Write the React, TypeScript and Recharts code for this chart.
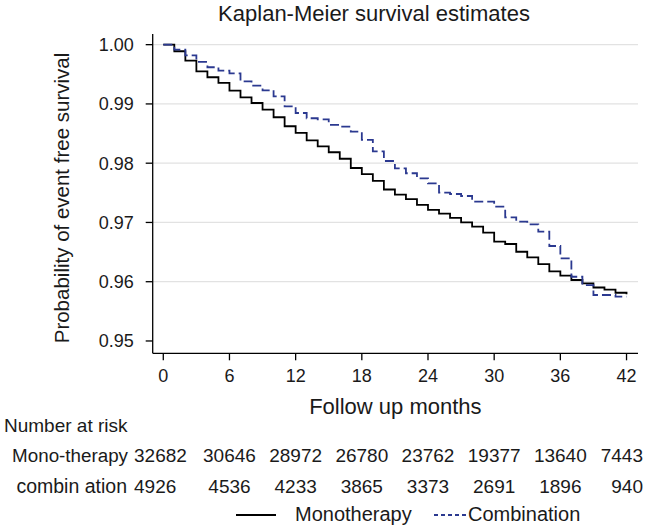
import React from 'react';
import { LineChart, Line, XAxis, YAxis, CartesianGrid } from 'recharts';

// ─── Data ─────────────────────────────────────────────────────────────────────

const months = [
  0, 1, 2, 3, 4, 5, 6, 7, 8, 9, 10, 11, 12, 13, 14, 15, 16, 17, 18, 19, 20, 21,
  22, 23, 24, 25, 26, 27, 28, 29, 30, 31, 32, 33, 34, 35, 36, 37, 38, 39, 40, 41, 42,
];

const monoSurvival = [
  1.0, 0.99889, 0.9973, 0.99551, 0.9945, 0.99354, 0.99224, 0.99112, 0.99016, 0.98903,
  0.98775, 0.98623, 0.9851, 0.98385, 0.98284, 0.98185, 0.98075, 0.97919, 0.97815, 0.977,
  0.97556, 0.97471, 0.97394, 0.97295, 0.97211, 0.9715, 0.97078, 0.97, 0.96928, 0.96827,
  0.96675, 0.96636, 0.96506, 0.96412, 0.96297, 0.96175, 0.96104, 0.96029, 0.95973, 0.95902,
  0.95866, 0.95814, 0.95787,
];

const comboSurvival = [
  1.0, 0.99916, 0.99821, 0.99708, 0.99619, 0.99561, 0.99517, 0.99382, 0.99308, 0.9923,
  0.99129, 0.9896, 0.98847, 0.98758, 0.98741, 0.98645, 0.98616, 0.98532, 0.98392, 0.982,
  0.98037, 0.97914, 0.9783, 0.97745, 0.9766, 0.97502, 0.9748, 0.97446, 0.9735, 0.9735,
  0.97266, 0.97087, 0.97013, 0.96969, 0.96844, 0.96603, 0.96395, 0.96084, 0.95944, 0.95776,
  0.95776, 0.95747, 0.95747,
];

const xTicks = [0, 6, 12, 18, 24, 30, 36, 42];
const yTicks = [0.95, 0.96, 0.97, 0.98, 0.99, 1.0];
const gridValues = [0.96, 0.97, 0.98, 0.99, 1.0];

const monoAtRisk = [32682, 30646, 28972, 26780, 23762, 19377, 13640, 7443];
const comboAtRisk = [4926, 4536, 4233, 3865, 3373, 2691, 1896, 940];

// ─── Layout ───────────────────────────────────────────────────────────────────

const W = 645;
const H = 528;
const PLOT_LEFT = 152.7;
const PLOT_RIGHT = 638;
const PLOT_TOP = 34;
const PLOT_BOTTOM = 353.3;
const Y_AXIS_W = 60;
const X_AXIS_H = 30;
const X_DOMAIN: [number, number] = [-0.96, 43.04];
const Y_DOMAIN: [number, number] = [0.94792, 1.0018];

const FONT = '"Liberation Sans", Arial, Helvetica, sans-serif';
const INK = '#1a1a1a';
const MONO = '#000000';
const COMBO = '#2b3990';

// used only to place the risk-table numbers under the month ticks
const xPos = (m: number) =>
  PLOT_LEFT + ((m - X_DOMAIN[0]) / (X_DOMAIN[1] - X_DOMAIN[0])) * (PLOT_RIGHT - PLOT_LEFT);

// first column hugs the row label, last column is flush with the right edge
function riskCell(n: number, i: number, count: number, y: number, key: string) {
  const last = i === count - 1;
  const first = i === 0;
  const x = first ? 134 : last ? 643 : xPos(xTicks[i]);
  const anchor = first ? 'start' : last ? 'end' : 'middle';
  return <text key={key} x={x} y={y} fontSize={19} textAnchor={anchor}>{n}</text>;
}

const data = months.map((m, i) => ({ m, mono: monoSurvival[i], combo: comboSurvival[i] }));

export default function App() {
  return (
    <div style={{ position: 'absolute', left: 0, top: 0, width: W, height: H, background: '#fff', fontFamily: FONT }}>
      <LineChart
        width={W}
        height={H}
        data={data}
        margin={{ top: PLOT_TOP, right: W - PLOT_RIGHT, bottom: H - PLOT_BOTTOM - X_AXIS_H, left: PLOT_LEFT - Y_AXIS_W }}
      >
        <CartesianGrid horizontal vertical={false} horizontalValues={gridValues} stroke="#e2e2e2" strokeWidth={1.2} />
        <XAxis
          dataKey="m"
          type="number"
          domain={X_DOMAIN}
          allowDataOverflow
          ticks={xTicks}
          height={X_AXIS_H}
          tickSize={7}
          tickMargin={9}
          stroke="#000"
          strokeWidth={1.3}
          tick={{ fill: INK, fontSize: 18, fontFamily: FONT }}
        />
        <YAxis
          type="number"
          domain={Y_DOMAIN}
          allowDataOverflow
          ticks={yTicks}
          width={Y_AXIS_W}
          tickSize={7}
          tickMargin={12}
          stroke="#000"
          strokeWidth={1.3}
          tickFormatter={(v: number) => v.toFixed(2)}
          tick={{ fill: INK, fontSize: 18, fontFamily: FONT }}
        />
        <Line type="stepAfter" dataKey="mono" name="Monotherapy" stroke={MONO} strokeWidth={1.8}
              dot={false} activeDot={false} isAnimationActive={false} />
        <Line type="stepAfter" dataKey="combo" name="Combination" stroke={COMBO} strokeWidth={1.8}
              strokeDasharray="9 4" dot={false} activeDot={false} isAnimationActive={false} />
      </LineChart>

      {/* Titles, number-at-risk table and legend */}
      <svg width={W} height={H} style={{ position: 'absolute', left: 0, top: 0, pointerEvents: 'none' }}
           fontFamily={FONT} fill={INK}>
        <text x={374} y={21} fontSize={22} textAnchor="middle">Kaplan-Meier survival estimates</text>
        <text x={0} y={0} fontSize={20.5} textAnchor="middle" dominantBaseline="central"
              transform="translate(61 198) rotate(-90)">Probability of event free survival</text>
        <text x={(PLOT_LEFT + PLOT_RIGHT) / 2} y={414} fontSize={22} textAnchor="middle">Follow up months</text>

        <text x={4} y={432} fontSize={19}>Number at risk</text>
        <text x={128} y={462} fontSize={18.8} textAnchor="end">Mono-therapy</text>
        <text x={127} y={493} fontSize={19.5} textAnchor="end">combin ation</text>
        {monoAtRisk.map((n, i) => riskCell(n, i, monoAtRisk.length, 462, 'm' + i))}
        {comboAtRisk.map((n, i) => riskCell(n, i, comboAtRisk.length, 493, 'c' + i))}

        {/* legend */}
        <line x1={236} x2={276} y1={515} y2={515} stroke={MONO} strokeWidth={2} />
        <text x={295} y={521} fontSize={20}>Monotherapy</text>
        <line x1={434} x2={468} y1={515} y2={515} stroke={COMBO} strokeWidth={2} strokeDasharray="4 3" />
        <text x={468} y={521} fontSize={20}>Combination</text>
      </svg>
    </div>
  );
}
